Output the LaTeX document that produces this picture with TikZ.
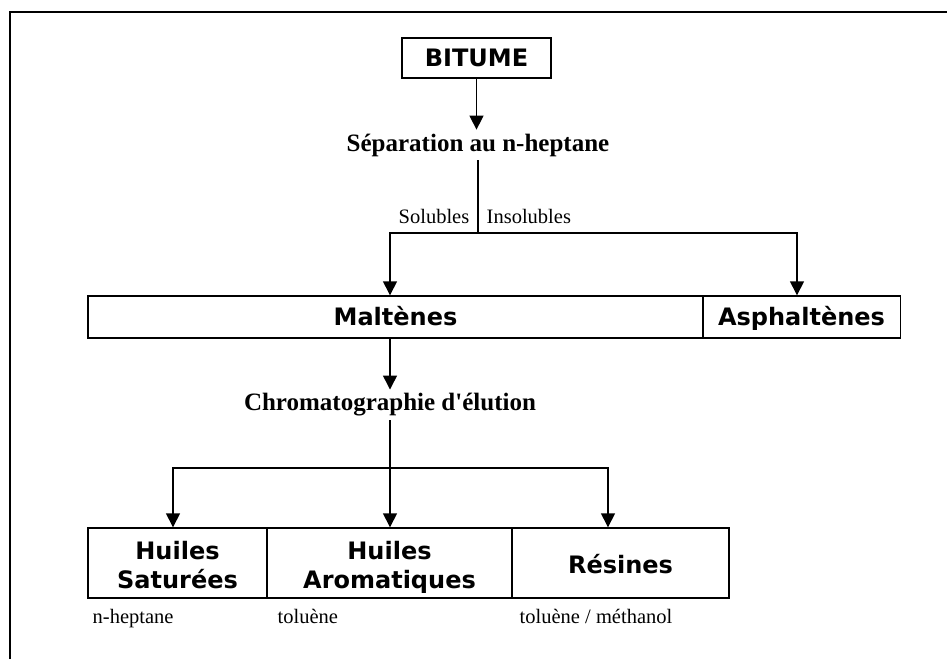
\documentclass[tikz,border=0pt]{standalone}
\usepackage{fontspec}
\setmainfont{Liberation Serif}
\newfontfamily\verd{DejaVu Sans}
\usetikzlibrary{arrows.meta}

\begin{document}
\begin{tikzpicture}[x=1pt, y=-1pt,
  line width=1.4pt,
  box/.style={draw, rectangle, inner sep=0pt, align=center,
    text height=21pt, text depth=5pt,
    font=\verd\bfseries\fontsize{24}{29}\selectfont},
  twoline/.style={text height=55pt},
  title/.style={font=\bfseries\fontsize{25}{28}\selectfont},
  tag/.style={font=\fontsize{20.5}{24}\selectfont, inner sep=0pt},
  arr/.style={-{Triangle[width=14pt,length=14pt]}}]
\useasboundingbox (0,0) rectangle (947,659);
\draw[line width=1.8pt] (10,659) -- (10,12) -- (947,12);

\node[box, minimum width=149pt, minimum height=40pt](bitume) at (476.5,58){BITUME};
\node[title](sep) at (478,145){Séparation au n-heptane};
\coordinate (split) at (478,233);
\node[tag, anchor=base east] (sol) at (470,223){Solubles};
\node[tag, anchor=base west] (insol) at (486,223){Insolubles};

\node[box, minimum width=615pt, minimum height=42pt](malt) at (395.5,317){Maltènes};
\node[box, minimum width=198pt, minimum height=42pt](asph) at (801.5,317){Asphaltènes};

\node[title](chrom) at (390,405){Chromatographie d\textquotesingle élution};
\coordinate (fork) at (390,468);

\node[box, twoline, minimum width=179pt, minimum height=70pt](sat) at (177.5,563){Huiles\\Saturées};
\node[box, twoline, minimum width=245pt, minimum height=70pt](arom) at (389.5,563){Huiles\\Aromatiques};
\node[box, text height=25pt, minimum width=217pt, minimum height=70pt](res) at (620.5,563){Résines};

\node[tag, anchor=base west] (solv1) at (92,623){n-heptane};
\node[tag, anchor=base west] (solv2) at (277,623){toluène};
\node[tag, anchor=base west] (solv3) at (519,623){toluène / méthanol};

\draw[arr] (bitume) -- (bitume.south |- sep.north);
\draw (sep) -- (split);
\draw[arr] (split) -| ([xshift=-5.5pt]malt.north);
\draw[arr] (split) -| ([xshift=-4.5pt]asph.north);

\draw[arr] ([xshift=-5.5pt]malt.south) -- ([xshift=-5.5pt]malt.south |- chrom.north);
\draw (chrom) -- (fork);
\draw[arr] (fork) -| ([xshift=-4.5pt]sat.north);
\draw[arr] (fork) -- (arom.north -| fork);
\draw[arr] (fork) -| ([xshift=-12.5pt]res.north);
\end{tikzpicture}
\end{document}
